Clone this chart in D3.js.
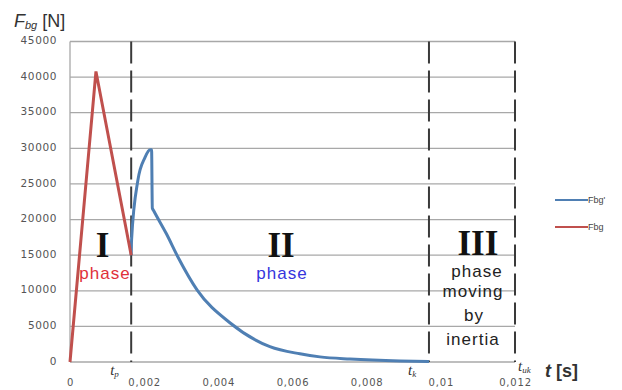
<!DOCTYPE html>
<html>
<head>
<meta charset="utf-8">
<script src="https://cdn.jsdelivr.net/npm/d3@7"></script>
<style>
  body { margin: 0; background: #fff; }
  svg { display: block; }
</style>
</head>
<body>
<div id="chart"></div>
<script>
// force Fbg (phase I), time in s, force in N
var redT = [0, 0.0007, 0.00165];
var redF = [0, 40800, 15000];

// force Fbg' (phase II)
var blueT = [0.00165, 0.00166, 0.00183, 0.00202, 0.00216, 0.00220, 0.00222, 0.00225, 0.0026, 0.00291, 0.00343, 0.00432, 0.00539, 0.0062, 0.00674, 0.00755, 0.0089, 0.00968];
var blueF = [15000, 17100, 25500, 28700, 29800, 29800, 21600, 21300, 18000, 14750, 10100, 5480, 2150, 1150, 720, 420, 150, 80];

var yTicks = [0, 5000, 10000, 15000, 20000, 25000, 30000, 35000, 40000, 45000];
var xTicks = [0, 0.002, 0.004, 0.006, 0.008, 0.01, 0.012];

// phase borders t_p, t_k, t_uk
var markT = [0.00165, 0.00968, 0.012];
var markSub = ["p", "k", "uk"];

var legendLabels = ["Fbg'", "Fbg"];
var colors = ["#4f7fb3", "#c0504d"];

var margin = {top: 41.5, right: 107, bottom: 28, left: 70},
    W = 622, H = 390,
    width = W - margin.left - margin.right,
    height = H - margin.top - margin.bottom;

var svg = d3.select("#chart").append("svg")
    .attr("width", W)
    .attr("height", H);

var g = svg.append("g")
    .attr("transform", "translate(" + margin.left + "," + margin.top + ")");

var x = d3.scaleLinear().domain([0, 0.012]).range([0, width]);
var y = d3.scaleLinear().domain([0, 45000]).range([height, 0]);

// grid
g.selectAll(".grid")
    .data(yTicks)
  .enter().append("line")
    .attr("x1", 0).attr("x2", width)
    .attr("y1", function(d) { return y(d); })
    .attr("y2", function(d) { return y(d); })
    .attr("stroke", "#a8a8a8")
    .attr("stroke-width", 1.3);

g.append("line")
    .attr("x1", 0).attr("x2", 0)
    .attr("y1", 0).attr("y2", height)
    .attr("stroke", "#a8a8a8")
    .attr("stroke-width", 1.3);

// y axis labels
var yAx = g.append("g")
    .call(d3.axisLeft(y).tickValues(yTicks).tickSize(0).tickPadding(13).tickFormat(d3.format("d")));
yAx.select(".domain").remove();
yAx.selectAll("text")
    .attr("dy", "0.2em")
    .style("font-family", "DejaVu Sans")
    .style("font-size", "10.5px")
    .style("letter-spacing", "0.6px")
    .attr("fill", "#555");

// x axis labels
var xAx = g.append("g")
    .attr("transform", "translate(0," + height + ")")
    .call(d3.axisBottom(x).tickValues(xTicks).tickSize(0).tickPadding(17)
      .tickFormat(function(d) { return d === 0 ? "0" : String(+d.toFixed(3)).replace(".", ","); }));
xAx.select(".domain").remove();
xAx.selectAll("text")
    .style("font-family", "DejaVu Sans")
    .style("font-size", "10px")
    .style("letter-spacing", "0.8px")
    .attr("fill", "#555");

// dashed phase borders
g.selectAll(".mark")
    .data(markT)
  .enter().append("line")
    .attr("x1", function(d) { return x(d); })
    .attr("x2", function(d) { return x(d); })
    .attr("y1", 0).attr("y2", height)
    .attr("stroke", "#3a3a3a")
    .attr("stroke-width", 2)
    .attr("stroke-dasharray", "22,7");

// curves
var redData = redT.map(function(t, i) { return [t, redF[i]]; });
var blueData = blueT.map(function(t, i) { return [t, blueF[i]]; });

var lineLin = d3.line()
    .x(function(d) { return x(d[0]); })
    .y(function(d) { return y(d[1]); });
var lineSmooth = d3.line()
    .curve(d3.curveMonotoneX)
    .x(function(d) { return x(d[0]); })
    .y(function(d) { return y(d[1]); });

g.append("path")
    .datum(blueData)
    .attr("fill", "none")
    .attr("stroke", colors[0])
    .attr("stroke-width", 3)
    .attr("d", lineSmooth);

g.append("path")
    .datum(redData)
    .attr("fill", "none")
    .attr("stroke", colors[1])
    .attr("stroke-width", 3)
    .attr("d", lineLin);

// phase labels
var roman = [{t: "I", x: 0.00088, y: 257}, {t: "II", x: 0.00569, y: 257}, {t: "III", x: 0.0110, y: 255}];
g.selectAll(".roman")
    .data(roman)
  .enter().append("text")
    .attr("x", function(d) { return x(d.x); })
    .attr("y", function(d) { return d.y - margin.top; })
    .attr("text-anchor", "middle")
    .style("font-family", "Liberation Serif")
    .style("font-weight", "bold")
    .style("font-size", "35px")
    .attr("fill", "#111")
    .text(function(d) { return d.t; });

var phaseTxt = [
  {t: "phase", x: 105, y: 279, c: "#e0303a"},
  {t: "phase", x: 282, y: 279, c: "#3535dd"},
  {t: "phase", x: 477, y: 277, c: "#222"},
  {t: "moving", x: 473, y: 297, c: "#222"},
  {t: "by", x: 474, y: 321, c: "#222"},
  {t: "inertia", x: 473, y: 345, c: "#222"}
];
svg.selectAll(".ph")
    .data(phaseTxt)
  .enter().append("text")
    .attr("x", function(d) { return d.x; })
    .attr("y", function(d) { return d.y; })
    .attr("text-anchor", "middle")
    .style("font-family", "Liberation Sans")
    .style("font-size", "17px")
    .style("letter-spacing", "1px")
    .attr("fill", function(d) { return d.c; })
    .text(function(d) { return d.t; });

// t_p, t_k, t_uk under the dashed lines
var markLbl = svg.selectAll(".ml")
    .data(markT)
  .enter().append("text")
    .attr("x", function(d, i) { return margin.left + x(d) + (i === 2 ? 3 : -21); })
    .attr("y", function(d, i) { return i === 2 ? 371 : 375; })
    .style("font-family", "Liberation Serif")
    .style("font-style", "italic")
    .style("font-size", "15px")
    .attr("fill", "#333");
markLbl.append("tspan").text("t");
markLbl.append("tspan")
    .attr("dy", 2)
    .style("font-size", "9px")
    .text(function(d, i) { return markSub[i]; });

// axis titles
var yTitle = svg.append("text")
    .attr("x", 14)
    .attr("y", 27)
    .style("font-family", "Liberation Sans")
    .style("font-size", "18px")
    .attr("fill", "#333");
yTitle.append("tspan").style("font-style", "italic").text("F");
yTitle.append("tspan").attr("dy", 2).style("font-style", "italic").style("font-size", "11px").text("bg");
yTitle.append("tspan").attr("dy", -2).text(" [N]");

var xTitle = svg.append("text")
    .attr("x", 545)
    .attr("y", 377)
    .style("font-family", "Liberation Sans")
    .style("font-size", "18px")
    .style("font-weight", "bold")
    .attr("fill", "#333");
xTitle.append("tspan").style("font-style", "italic").text("t");
xTitle.append("tspan").text(" [s]");

// legend
var legend = svg.selectAll(".legend")
    .data(legendLabels)
  .enter().append("g")
    .attr("transform", function(d, i) { return "translate(555," + (200 + i * 27) + ")"; });
legend.append("line")
    .attr("x1", 0).attr("x2", 33)
    .attr("stroke", function(d, i) { return colors[i]; })
    .attr("stroke-width", 2);
legend.append("text")
    .attr("x", 33)
    .attr("y", 3)
    .style("font-family", "Liberation Sans")
    .style("font-size", "9px")
    .attr("fill", "#444")
    .text(function(d) { return d; });
</script>
</body>
</html>
